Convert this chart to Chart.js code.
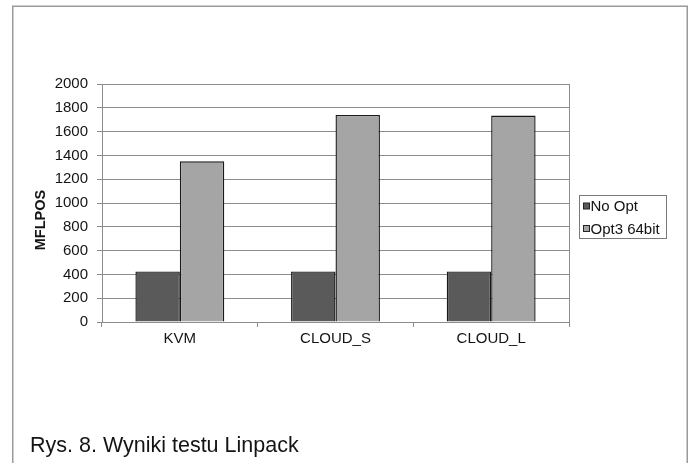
<!DOCTYPE html>
<html>
<head>
<meta charset="utf-8">
<script src="https://cdn.jsdelivr.net/npm/chart.js@4/dist/chart.umd.min.js"></script>
<style>
  html, body { margin: 0; padding: 0; background: #fff; }
  #c { display: block; }
</style>
</head>
<body>
<canvas id="c" width="693" height="463"></canvas>
<script>
// Linpack results (MFLOPS) for each environment
const categories = ['KVM', 'CLOUD_S', 'CLOUD_L'];
const noOpt = [425, 425, 425];
const opt3_64bit = [1350, 1740, 1735];
const seriesNames = ['No Opt', 'Opt3 64bit'];
const yTicks = [0, 200, 400, 600, 800, 1000, 1200, 1400, 1600, 1800, 2000];
const axisTitle = 'MFLPOS';
const caption = 'Rys. 8. Wyniki testu Linpack';

const FONT = '"Liberation Sans", Arial, Helvetica, sans-serif';
const GRID = '#8c8c8c';
const INK = '#141414';

// Page frame, plot border, axis title, legend box and figure caption
const decorations = {
  id: 'decorations',
  beforeDraw(chart) {
    const ctx = chart.ctx;
    ctx.save();
    ctx.fillStyle = '#ffffff';
    ctx.fillRect(0, 0, chart.width, chart.height);
    ctx.strokeStyle = '#9a9a9a';
    ctx.lineWidth = 1.5;
    ctx.beginPath();
    ctx.moveTo(12.75, chart.height + 2);
    ctx.lineTo(12.75, 6.25);
    ctx.lineTo(687.25, 6.25);
    ctx.lineTo(687.25, chart.height + 2);
    ctx.stroke();
    ctx.restore();
  },
  beforeDatasetsDraw(chart) {
    const {ctx, chartArea: a} = chart;
    ctx.save();
    ctx.strokeStyle = GRID;
    ctx.lineWidth = 1;
    ctx.beginPath();
    ctx.moveTo(Math.round(a.right) + 0.5, a.top);
    ctx.lineTo(Math.round(a.right) + 0.5, a.bottom);
    ctx.stroke();
    ctx.restore();
  },
  afterDraw(chart) {
    const ctx = chart.ctx;
    ctx.save();

    // rotated value-axis title
    ctx.translate(40.5, 220);
    ctx.rotate(-Math.PI / 2);
    ctx.fillStyle = INK;
    ctx.font = 'bold 14.5px ' + FONT;
    ctx.textAlign = 'center';
    ctx.textBaseline = 'middle';
    ctx.fillText(axisTitle, 0, 0);
    ctx.setTransform(1, 0, 0, 1, 0, 0);

    // legend
    const lx = 579.5, ly = 195.5, lw = 87, lh = 43;
    ctx.strokeStyle = '#7a7a7a';
    ctx.lineWidth = 1;
    ctx.strokeRect(lx, ly, lw, lh);
    const rows = [206.5, 229];
    chart.data.datasets.forEach((ds, i) => {
      const y = rows[i];
      ctx.fillStyle = ds.backgroundColor;
      ctx.fillRect(583.5, y - 3.5, 6, 6);
      ctx.strokeStyle = '#222';
      ctx.strokeRect(583.5, y - 3.5, 6, 6);
      ctx.fillStyle = INK;
      ctx.font = '15px ' + FONT;
      ctx.textAlign = 'left';
      ctx.textBaseline = 'middle';
      ctx.fillText(ds.label, 590.5, y + 0.5);
    });

    // figure caption
    ctx.fillStyle = INK;
    ctx.font = '21.5px ' + FONT;
    ctx.textAlign = 'left';
    ctx.textBaseline = 'alphabetic';
    ctx.fillText(caption, 30, 452);
    ctx.restore();
  }
};

new Chart(document.getElementById('c'), {
  type: 'bar',
  data: {
    labels: categories,
    datasets: [
      {
        label: seriesNames[0],
        data: noOpt,
        backgroundColor: '#5a5a5a',
        borderColor: '#1a1a1a',
        borderWidth: 1.4
      },
      {
        label: seriesNames[1],
        data: opt3_64bit,
        backgroundColor: '#a5a5a5',
        borderColor: '#1a1a1a',
        borderWidth: 1.4
      }
    ]
  },
  options: {
    responsive: false,
    animation: false,
    layout: { padding: { top: 84, right: 124, bottom: 111, left: 0 } },
    datasets: { bar: { categoryPercentage: 0.571, barPercentage: 1 } },
    plugins: {
      legend: { display: false },
      tooltip: { enabled: false },
      title: { display: false }
    },
    scales: {
      x: {
        afterFit(s) { s.height = 30; },
        grid: {
          drawOnChartArea: false,
          drawTicks: true,
          tickLength: 5,
          color: GRID,
          offset: true
        },
        border: { display: true, color: GRID, width: 1 },
        ticks: {
          color: INK,
          font: { family: FONT, size: 15 },
          padding: 3
        }
      },
      y: {
        min: 0,
        max: 2000,
        afterFit(s) { s.width = 102; },
        afterBuildTicks(s) { s.ticks = yTicks.map(v => ({ value: v })); },
        grid: {
          color: GRID,
          tickLength: 5,
          drawTicks: true
        },
        border: { display: true, color: GRID, width: 1 },
        ticks: {
          color: INK,
          font: { family: FONT, size: 15 },
          padding: 9,
          callback: v => String(v)
        }
      }
    }
  },
  plugins: [decorations]
});
</script>
</body>
</html>
